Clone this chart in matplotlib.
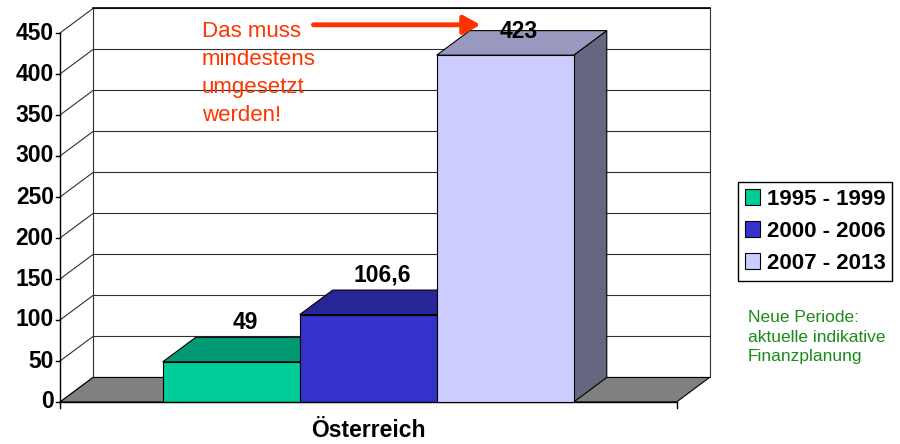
import matplotlib.pyplot as plt
from matplotlib.patches import Polygon, Patch

# data
periods = ['1995 - 1999', '2000 - 2006', '2007 - 2013']
values = [49, 106.6, 423]
value_labels = ['49', '106,6', '423']
country = 'Österreich'
yticks = [0, 50, 100, 150, 200, 250, 300, 350, 400, 450]

front_colors = ['#00CC99', '#3333CC', '#CCCCFF']
top_colors = ['#009973', '#262699', '#9999C0']
side_colors = ['#007359', '#1A1A73', '#666680']

font = {'family': 'Liberation Sans', 'weight': 'bold', 'size': 16.5}

# 3d look: depth offset in data units
dx = 0.241
dy = 29.9
bar_w = 1.0
x_start = 0.75
x_end = 4.5

fig = plt.figure(figsize=(9, 4.44), dpi=100)
ax = fig.add_axes([0, 0, 1, 1])
ax.set_xlim(-60 / 137, 840 / 137)
ax.set_ylim(-444 / 0.82 + 402 / 0.82, 402 / 0.82)
ax.axis('off')

# back wall + side wall gridlines
grid_c = '#303030'
for v in yticks:
    ax.plot([0, dx], [v, v + dy], color=grid_c, lw=0.8, zorder=1)
    ax.plot([dx, x_end + dx], [v + dy, v + dy], color=grid_c, lw=0.8, zorder=1)
    ax.plot([-0.03, 0], [v, v], color='black', lw=1, zorder=1)
    ax.text(-0.045, v, str(v), ha='right', va='center', fontdict=font)
top = yticks[-1] + dy
ax.plot([dx, dx], [dy, top], color=grid_c, lw=0.8, zorder=1)
ax.plot([x_end + dx, x_end + dx], [dy, top], color=grid_c, lw=0.8, zorder=1)
ax.plot([dx, x_end + dx], [top, top], color='black', lw=1.2, zorder=1)

# floor
floor = Polygon([(0, 0), (dx, dy), (x_end + dx, dy), (x_end, 0)],
                closed=True, facecolor='#808080', edgecolor='black', lw=0.8, zorder=2)
ax.add_patch(floor)

# axis lines
ax.plot([0, 0], [0, yticks[-1]], color='black', lw=1, zorder=5)
ax.plot([0, x_end], [0, 0], color='black', lw=1, zorder=5)
for xt in [0, x_end]:
    ax.plot([xt, xt], [0, -7], color='black', lw=1, zorder=5)

# bars
for i, v in enumerate(values):
    x0 = x_start + i * bar_w
    x1 = x0 + bar_w
    side = Polygon([(x1, 0), (x1 + dx, dy), (x1 + dx, v + dy), (x1, v)],
                   closed=True, facecolor=side_colors[i], edgecolor='black', lw=0.8, zorder=3 + i)
    topf = Polygon([(x0, v), (x0 + dx, v + dy), (x1 + dx, v + dy), (x1, v)],
                   closed=True, facecolor=top_colors[i], edgecolor='black', lw=0.8, zorder=3 + i)
    front = Polygon([(x0, 0), (x0, v), (x1, v), (x1, 0)],
                    closed=True, facecolor=front_colors[i], edgecolor='black', lw=0.8, zorder=3 + i)
    ax.add_patch(side)
    ax.add_patch(topf)
    ax.add_patch(front)
    # keep label inside plot area (like excel does)
    ly = min(v + dy + 18, top - 28)
    ax.text(x0 + bar_w / 2 + 0.1, ly, value_labels[i], ha='center', va='center',
            fontdict=font, zorder=10)

ax.text(x_start + 1.5 * bar_w, -35, country, ha='center', va='center', fontdict=font)

# annotation
ax.text(1.036, 465, 'Das muss\nmindestens\numgesetzt\nwerden!', ha='left', va='top',
        color='#FF3300', family='Liberation Sans', fontsize=16, linespacing=1.45, zorder=10)
ax.annotate('', xy=(3.07, 460), xytext=(1.85, 460),
            arrowprops=dict(arrowstyle='-|>,head_length=1.0,head_width=0.55',
                            color='#FF3300', lw=3.5, shrinkA=0, shrinkB=0), zorder=10)

ax.text(688 / 137, -(337 - 402) / 0.82, 'Neue Periode:\naktuelle indikative\nFinanzplanung',
        ha='left', va='center', color='#1A8A1A', family='Liberation Sans', fontsize=12.5,
        linespacing=1.4)

handles = [Patch(facecolor=c, edgecolor='black', lw=0.8) for c in front_colors]
fig.legend(handles, periods, loc='upper left', bbox_to_anchor=(0.82, 0.59),
           prop={'family': 'Liberation Sans', 'weight': 'bold', 'size': 16},
           frameon=True, fancybox=False, edgecolor='black', framealpha=1,
           handlelength=0.7, handleheight=0.7, handletextpad=0.3, borderpad=0.3,
           labelspacing=0.5, borderaxespad=0)

plt.savefig('out.png', dpi=100)
